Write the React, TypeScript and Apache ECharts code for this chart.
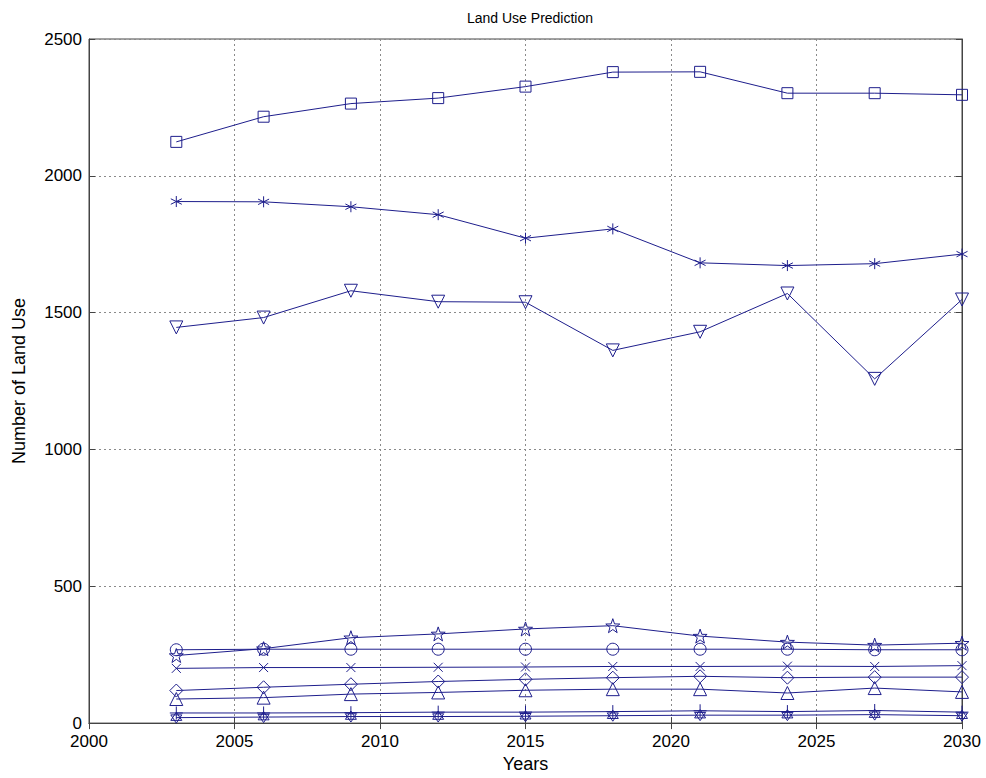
import React, { useEffect, useRef } from "react";
import * as echarts from "echarts";

const years = [2003, 2006, 2009, 2012, 2015, 2018, 2021, 2024, 2027, 2030];
const squareSeries = [2124, 2216, 2264, 2284, 2326, 2379, 2380, 2302, 2302, 2296];
const asteriskSeries = [1906, 1905, 1887, 1858, 1772, 1806, 1682, 1672, 1679, 1714];
const triDownSeries = [1446, 1482, 1580, 1540, 1538, 1362, 1430, 1570, 1258, 1548];
const starSeries = [247, 272, 312, 326, 344, 356, 318, 296, 285, 292];
const circleSeries = [268, 270, 270, 270, 270, 270, 270, 270, 268, 268];
const xSeries = [200, 203, 203, 204, 205, 207, 207, 208, 207, 210];
const diamondSeries = [119, 131, 142, 152, 160, 166, 171, 166, 168, 168];
const triUpSeries = [88, 93, 106, 112, 120, 124, 124, 110, 128, 114];
const plusSeries = [37, 37, 38, 40, 40, 42, 45, 42, 46, 40];
const hexSeries = [20, 22, 24, 24, 25, 27, 29, 29, 31, 27];

const yTicks = [0, 500, 1000, 1500, 2000, 2500];
const xTicks = [2000, 2005, 2010, 2015, 2020, 2025, 2030];

const NAVY = "#1e1e8c";

const SYM_ASTERISK = "path://M0,-10L0,10M-8.66,-5L8.66,5M-8.66,5L8.66,-5";
const SYM_X = "path://M-10,-10L10,10M-10,10L10,-10";
const SYM_PLUS = "path://M0,-10L0,10M-10,0L10,0";
const SYM_STAR =
  "path://M0,-10L2.35,-3.24L9.51,-3.09L3.8,1.24L5.88,8.09L0,4L-5.88,8.09L-3.8,1.24L-9.51,-3.09L-2.35,-3.24Z";
const SYM_HEX =
  "path://M0,-10L8.66,5L-8.66,5ZM0,10L-8.66,-5L8.66,-5Z";

function mk(name: string, data: number[], symbol: string, size: number, rotate = 0) {
  return {
    name,
    type: "line",
    data: years.map((y, i) => [y, data[i]]),
    symbol,
    symbolSize: size,
    symbolRotate: rotate,
    showAllSymbol: true,
    lineStyle: { color: NAVY, width: 1 },
    itemStyle: { color: "rgba(0,0,0,0)", borderColor: NAVY, borderWidth: 1 },
    emphasis: { disabled: true },
  };
}

export default function App() {
  const ref = useRef<HTMLDivElement>(null);
  useEffect(() => {
    if (!ref.current) return;
    const chart = echarts.init(ref.current, undefined, { renderer: "svg" });
    const font = "Liberation Sans, Arial, sans-serif";
    const gridLine = { show: true, lineStyle: { color: "#8a8a8a", type: [2, 3] as any, width: 1 } };
    const plain = (v: number) => String(v);
    chart.setOption({
      animation: false,
      backgroundColor: "#ffffff",
      title: {
        text: "Land Use Prediction",
        left: 525,
        top: 6,
        textAlign: "center",
        textStyle: { fontFamily: font, fontSize: 14, fontWeight: "normal", color: "#000" },
      },
      grid: { left: 89, right: 24, top: 39, bottom: 51, show: true, borderColor: "#444", borderWidth: 1 },
      xAxis: [
        {
          type: "value",
          min: xTicks[0],
          max: xTicks[xTicks.length - 1],
          interval: 5,
          name: "Years",
          nameLocation: "middle",
          nameGap: 31,
          nameTextStyle: { fontFamily: font, fontSize: 18, color: "#000", lineHeight: 18 },
          axisLine: { show: true, lineStyle: { color: "#444" } },
          axisTick: { show: true, inside: true, length: 6, lineStyle: { color: "#444" } },
          axisLabel: { fontFamily: font, fontSize: 17, lineHeight: 15, color: "#000", margin: 11, formatter: plain },
          splitLine: gridLine,
        },
        {
          type: "value",
          position: "top",
          min: xTicks[0],
          max: xTicks[xTicks.length - 1],
          interval: 5,
          axisLine: { show: true, lineStyle: { color: "#444" } },
          axisTick: { show: true, inside: true, length: 6, lineStyle: { color: "#444" } },
          axisLabel: { show: false },
          splitLine: { show: false },
        },
      ],
      yAxis: [
        {
          type: "value",
          min: yTicks[0],
          max: yTicks[yTicks.length - 1],
          interval: 500,
          name: "Number of Land Use",
          nameLocation: "middle",
          nameGap: 61,
          nameTextStyle: { fontFamily: font, fontSize: 18, color: "#000" },
          axisLine: { show: true, lineStyle: { color: "#444" } },
          axisTick: { show: true, inside: true, length: 6, lineStyle: { color: "#444" } },
          axisLabel: { fontFamily: font, fontSize: 17, lineHeight: 15, color: "#000", margin: 7, formatter: plain },
          splitLine: gridLine,
        },
        {
          type: "value",
          position: "right",
          min: yTicks[0],
          max: yTicks[yTicks.length - 1],
          interval: 500,
          axisLine: { show: true, lineStyle: { color: "#444" } },
          axisTick: { show: true, inside: true, length: 6, lineStyle: { color: "#444" } },
          axisLabel: { show: false },
          splitLine: { show: false },
        },
      ],
      series: [
        mk("Square", squareSeries, "rect", 11),
        mk("Asterisk", asteriskSeries, SYM_ASTERISK, 11),
        mk("TriangleDown", triDownSeries, "triangle", 13, 180),
        mk("Star", starSeries, SYM_STAR, 14),
        mk("Circle", circleSeries, "circle", 12),
        mk("X", xSeries, SYM_X, 9),
        mk("Diamond", diamondSeries, "diamond", 13),
        mk("TriangleUp", triUpSeries, "triangle", 13),
        mk("Plus", plusSeries, SYM_PLUS, 13),
        mk("Hexagram", hexSeries, SYM_HEX, 11),
      ],
    });
    return () => chart.dispose();
  }, []);
  return <div ref={ref} style={{ width: 986, height: 778, position: "absolute", left: 0, top: 0 }} />;
}
